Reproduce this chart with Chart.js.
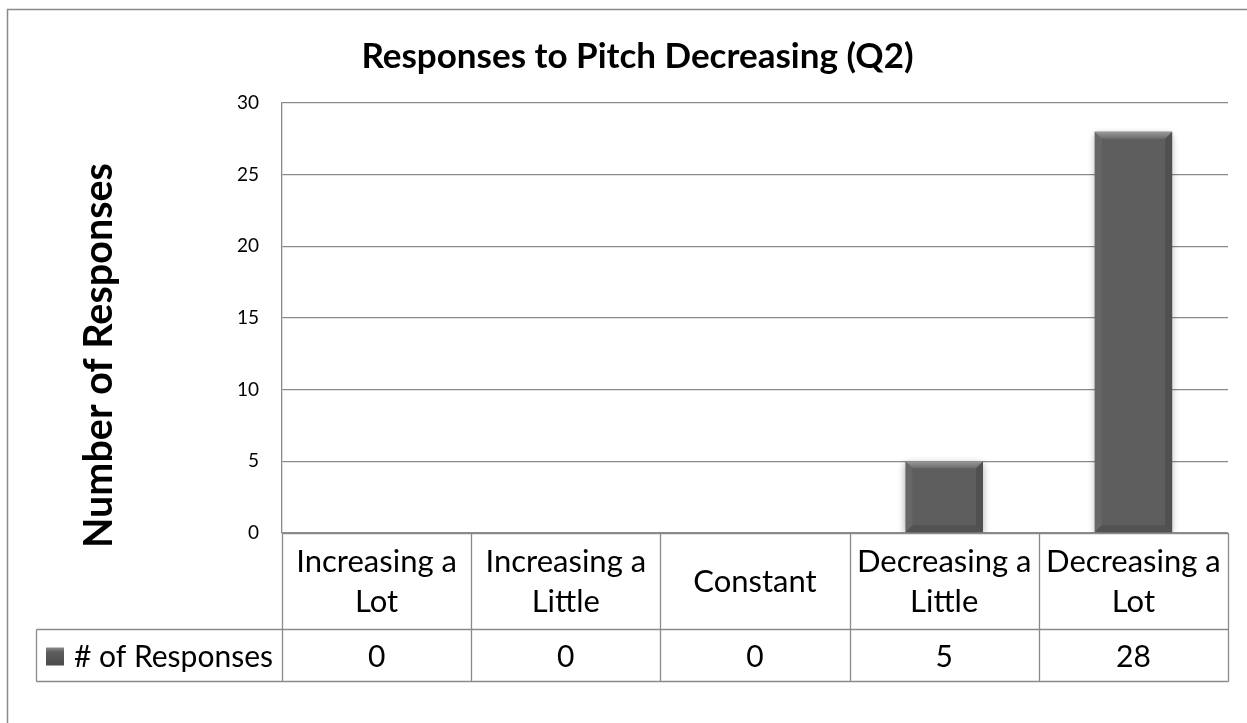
<!DOCTYPE html>
<html>
<head>
<meta charset="utf-8">
<title>Responses to Pitch Decreasing (Q2)</title>
<script src="https://cdn.jsdelivr.net/npm/chart.js@4.4.1/dist/chart.umd.min.js"></script>
<style>
  html, body { margin: 0; padding: 0; background: #ffffff; }
  #wrap { width: 1247px; height: 723px; position: relative; }
</style>
</head>
<body>
<div id="wrap"><canvas id="chart" width="1247" height="723"></canvas></div>
<script>
// Survey answers: how listeners described the pitch change (question 2)
const categories = [
  ['Increasing a', 'Lot'],
  ['Increasing a', 'Little'],
  ['Constant'],
  ['Decreasing a', 'Little'],
  ['Decreasing a', 'Lot']
];
const responses = [0, 0, 0, 5, 28];
const seriesName = '# of Responses';
const yTicks = [0, 5, 10, 15, 20, 25, 30];

const chartTitle = 'Responses to Pitch Decreasing (Q2)';
const yAxisTitle = 'Number of Responses';

const FONT = 'Lato, "Open Sans", sans-serif';
const LINE = '#8a8a8a';
const BAR = '#5e5e5e';

// Outer frame, titles and the data table under the plot
const frameAndTable = {
  id: 'frameAndTable',
  afterDraw(chart) {
    const ctx = chart.ctx;
    const area = chart.chartArea;
    const x = chart.scales.x;
    const n = categories.length;
    const colW = (area.right - area.left) / n;
    const legendLeft = 36.5;
    const headerBottom = 629.5;
    const tableBottom = 681.5;

    ctx.save();

    // chart frame
    ctx.strokeStyle = LINE;
    ctx.lineWidth = 1.5;
    ctx.beginPath();
    ctx.moveTo(7.5, chart.height + 5);
    ctx.lineTo(7.5, 9.5);
    ctx.lineTo(chart.width + 5, 9.5);
    ctx.stroke();

    // chart title
    ctx.fillStyle = '#000000';
    ctx.textAlign = 'center';
    ctx.textBaseline = 'alphabetic';
    ctx.font = 'bold 35px ' + FONT;
    ctx.fillText(chartTitle, 637.5, 68);

    // value axis title
    ctx.save();
    ctx.translate(112, 355.5);
    ctx.rotate(-Math.PI / 2);
    ctx.font = 'bold 39.5px ' + FONT;
    ctx.fillText(yAxisTitle, 0, 0);
    ctx.restore();

    // table grid
    ctx.strokeStyle = LINE;
    ctx.lineWidth = 1.3;
    ctx.beginPath();
    // column separators in the header and value rows
    for (let i = 0; i <= n; i++) {
      const cx = Math.round(area.left + i * colW) + 0.5;
      ctx.moveTo(cx, area.bottom);
      ctx.lineTo(cx, tableBottom);
    }
    ctx.moveTo(area.left, area.bottom + 0.5);
    ctx.lineTo(area.right, area.bottom + 0.5);
    ctx.moveTo(legendLeft, headerBottom);
    ctx.lineTo(area.right, headerBottom);
    ctx.moveTo(legendLeft, tableBottom);
    ctx.lineTo(area.right + 0.5, tableBottom);
    ctx.moveTo(legendLeft, headerBottom);
    ctx.lineTo(legendLeft, tableBottom);
    ctx.stroke();

    // category names
    ctx.fillStyle = '#000000';
    ctx.font = '31px ' + FONT;
    ctx.textAlign = 'center';
    const headerMid = (area.bottom + headerBottom) / 2;
    const lineH = 40;
    const capHalf = 10.5;
    categories.forEach((lines, i) => {
      const cx = x.getPixelForValue(i);
      lines.forEach((t, j) => {
        const y = headerMid + (j - (lines.length - 1) / 2) * lineH + capHalf;
        ctx.fillText(t, cx, y);
      });
    });

    // values row
    const valueMid = (headerBottom + tableBottom) / 2;
    ctx.font = '30px ' + FONT;
    responses.forEach((v, i) => {
      ctx.fillText(String(v), x.getPixelForValue(i), valueMid + 11);
    });

    // legend key and series name
    const sw = 18;
    const sx = 46, sy = valueMid - sw / 2 + 1;
    const g = ctx.createLinearGradient(sx, sy, sx, sy + sw);
    g.addColorStop(0, '#8a8a8a');
    g.addColorStop(0.25, '#5e5e5e');
    g.addColorStop(1, '#4a4a4a');
    ctx.fillStyle = g;
    ctx.fillRect(sx, sy, sw, sw);
    ctx.fillStyle = '#000000';
    ctx.textAlign = 'left';
    ctx.font = '30px ' + FONT;
    ctx.fillText(seriesName, 74, valueMid + 11);

    ctx.restore();
  }
};

// Soft drop shadow and bevelled edges on the bars
const bevelBars = {
  id: 'bevelBars',
  beforeDatasetsDraw(chart) {
    const ctx = chart.ctx;
    ctx.save();
    ctx.shadowColor = 'rgba(0,0,0,0.35)';
    ctx.shadowBlur = 7;
    ctx.shadowOffsetX = 0;
    ctx.shadowOffsetY = 2;
  },
  afterDatasetsDraw(chart) {
    const ctx = chart.ctx;
    ctx.restore();
    const meta = chart.getDatasetMeta(0);
    ctx.save();
    meta.data.forEach(bar => {
      const p = bar.getProps(['x', 'y', 'base', 'width'], true);
      const h = p.base - p.y;
      if (h <= 0) return;
      const l = p.x - p.width / 2, r = p.x + p.width / 2, t = p.y, b = p.base;
      const e = Math.min(7, h / 2);
      // top bevel
      const gt = ctx.createLinearGradient(0, t, 0, t + e);
      gt.addColorStop(0, '#9a9a9a');
      gt.addColorStop(1, '#6c6c6c');
      ctx.fillStyle = gt;
      ctx.beginPath();
      ctx.moveTo(l, t); ctx.lineTo(r, t); ctx.lineTo(r - e, t + e); ctx.lineTo(l + e, t + e);
      ctx.closePath(); ctx.fill();
      // left edge
      ctx.fillStyle = 'rgba(255,255,255,0.06)';
      ctx.beginPath();
      ctx.moveTo(l, t); ctx.lineTo(l + e, t + e); ctx.lineTo(l + e, b - e); ctx.lineTo(l, b);
      ctx.closePath(); ctx.fill();
      // right edge
      ctx.fillStyle = 'rgba(0,0,0,0.15)';
      ctx.beginPath();
      ctx.moveTo(r, t); ctx.lineTo(r - e, t + e); ctx.lineTo(r - e, b - e); ctx.lineTo(r, b);
      ctx.closePath(); ctx.fill();
      // bottom edge
      ctx.fillStyle = 'rgba(0,0,0,0.12)';
      ctx.beginPath();
      ctx.moveTo(l, b); ctx.lineTo(l + e, b - e); ctx.lineTo(r - e, b - e); ctx.lineTo(r, b);
      ctx.closePath(); ctx.fill();
    });
    ctx.restore();
  }
};

new Chart(document.getElementById('chart'), {
  type: 'bar',
  data: {
    labels: categories.map(c => c.join(' ')),
    datasets: [{
      label: seriesName,
      data: responses,
      backgroundColor: BAR,
      borderWidth: 0,
      barPercentage: 0.41,
      categoryPercentage: 1.0
    }]
  },
  options: {
    responsive: false,
    animation: false,
    events: [],
    layout: { padding: { left: 0, top: 103, right: 19, bottom: 190 } },
    plugins: {
      legend: { display: false },
      title: { display: false },
      tooltip: { enabled: false }
    },
    scales: {
      x: { display: false },
      y: {
        min: yTicks[0],
        max: yTicks[yTicks.length - 1],
        afterFit(scale) { scale.width = 282; },
        afterBuildTicks(scale) { scale.ticks = yTicks.map(v => ({ value: v })); },
        grid: { color: LINE, lineWidth: 1.3, drawTicks: false },
        border: { display: true, color: LINE, width: 1.3 },
        ticks: {
          padding: 23,
          color: '#000000',
          font: { family: FONT, size: 19 }
        }
      }
    }
  },
  plugins: [bevelBars, frameAndTable]
});
</script>
</body>
</html>
